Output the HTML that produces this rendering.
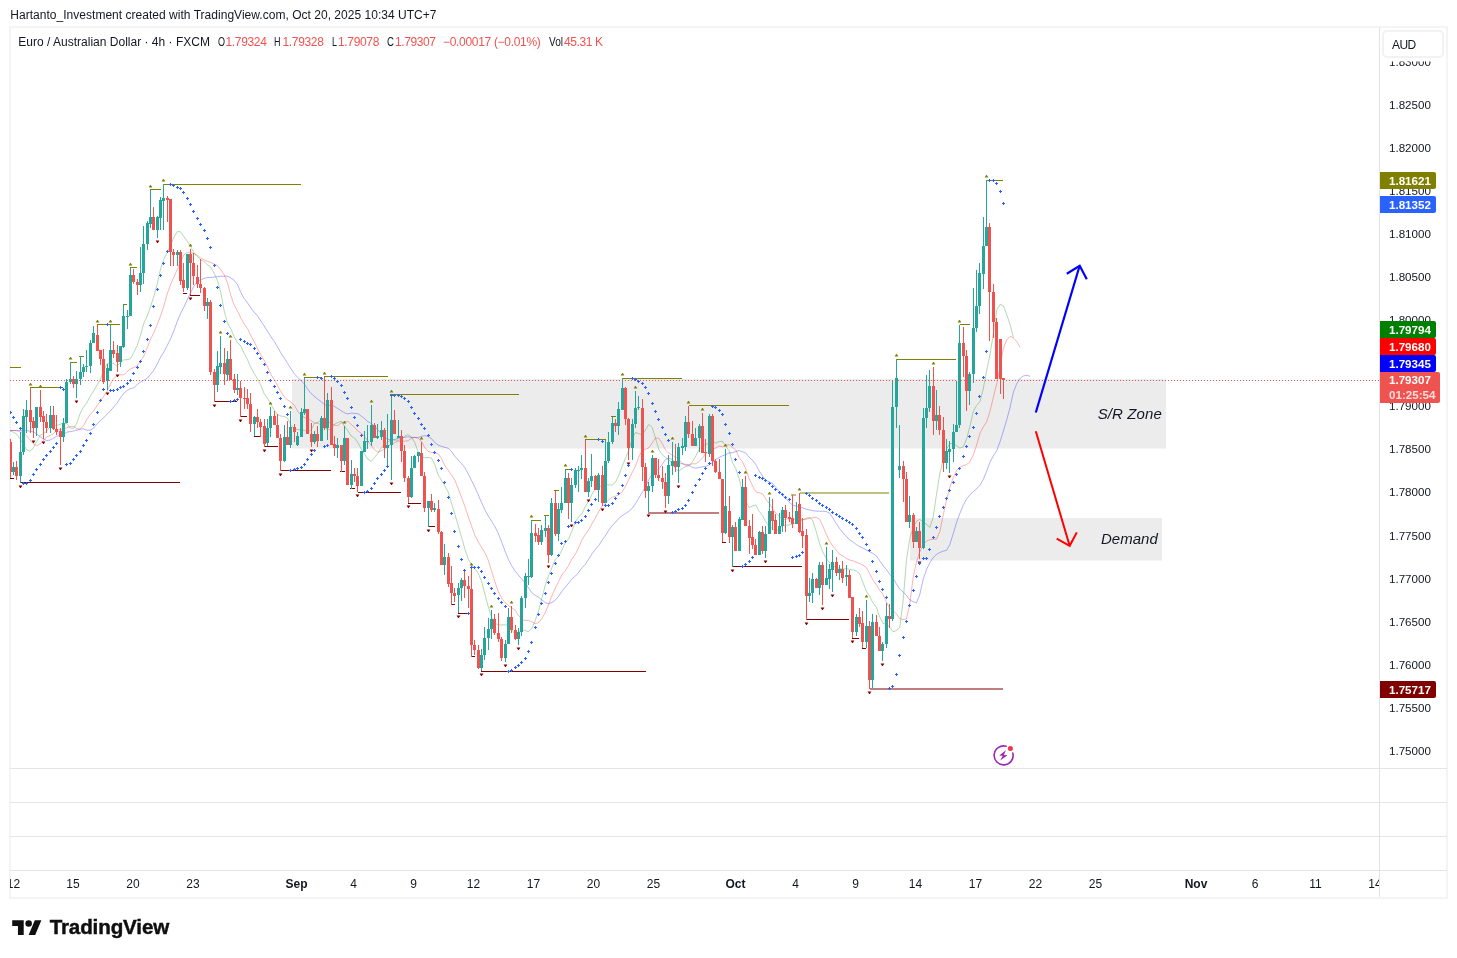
<!DOCTYPE html><html><head><meta charset="utf-8"><title>EURAUD chart</title><style>
*{margin:0;padding:0;box-sizing:border-box}
html,body{width:1457px;height:958px;background:#fff;overflow:hidden}
body{position:relative;font-family:"Liberation Sans",sans-serif;color:#131722;font-size:12px}
.abs{position:absolute;white-space:nowrap}
#hdr{left:10px;top:8px;height:14px;line-height:14px;font-size:12px;color:#131722;letter-spacing:-0.16px}
#frame{left:9px;top:26px;width:1439px;height:873px;border:2px solid #f4f4f6;border-right-width:2px}
.hl{left:10px;width:1437px;height:1px;background:#e4e5e9}
.vl{left:1379px;top:27px;width:1px;height:870px;background:#e2e3e7}
.lg{top:35px;height:14px;line-height:14px;font-size:12px}
.lg.r{color:#ef5350}
.pl{left:1380px;width:68px;height:14px;line-height:14px;font-size:11.6px;padding-left:9px;color:#131722}
.tag{left:1380px;width:56px;height:17px;line-height:17px;font-size:11.6px;padding-left:9px;color:#fff;font-weight:bold;border-radius:0 2px 2px 0}
.tl{top:877px;height:14px;line-height:14px;font-size:12px;transform:translateX(-50%);color:#131722}
.tl.b{font-weight:bold}
.note{font-style:italic;font-size:15px;color:#131722;height:18px;line-height:18px}
#aud{left:1382px;top:30px;width:62px;height:28px;border:2px solid #f2f2f4;border-radius:5px;background:#fff;font-size:12px;line-height:26.5px;padding-left:8px;letter-spacing:-.6px}
#tvtxt{left:49.5px;top:915px;font-size:20.5px;line-height:24px;font-weight:bold;color:#131722;letter-spacing:-0.2px}
</style></head><body>
<div class="abs" id="frame"></div>
<div class="abs hl" style="top:768px"></div>
<div class="abs hl" style="top:802px"></div>
<div class="abs hl" style="top:836px"></div>
<div class="abs hl" style="top:870px"></div>
<svg class="abs" style="left:0;top:0" width="1457" height="958" viewBox="0 0 1457 958"><defs><clipPath id="cp"><rect x="10" y="27" width="1369" height="741"/></clipPath></defs><g clip-path="url(#cp)">
<rect x="292" y="379" width="874" height="69.5" fill="#ececec"/>
<rect x="910" y="518" width="252" height="42.5" fill="#ececec"/>
<polyline fill="none" stroke="#0000ff" stroke-opacity=".3" stroke-width="1" points="10.0,430.5 13.4,430.5 16.7,430.5 20.1,430.5 23.4,430.5 26.8,430.7 30.1,431.2 33.5,431.9 36.8,434.0 40.1,436.6 43.5,439.2 46.8,440.6 50.2,440.0 53.5,438.2 56.9,436.1 60.2,435.4 63.6,434.3 66.9,432.1 70.2,431.6 73.6,431.0 76.9,430.1 80.3,429.2 83.6,428.9 87.0,430.2 90.3,430.2 93.7,428.0 97.0,423.8 100.3,420.6 103.7,417.8 107.0,414.2 110.4,410.8 113.7,407.0 117.1,403.1 120.4,397.9 123.8,393.3 127.1,390.5 130.4,388.7 133.8,387.8 137.1,384.7 140.5,382.0 143.8,380.2 147.2,378.4 150.5,374.4 153.9,370.1 157.2,364.1 160.5,357.4 163.9,352.0 167.2,345.6 170.6,338.7 173.9,330.7 177.3,321.3 180.6,313.5 184.0,306.8 187.3,299.6 190.6,292.5 194.0,286.1 197.3,281.9 200.7,280.1 204.0,278.4 207.4,277.5 210.7,277.6 214.1,277.1 217.4,276.7 220.7,276.2 224.1,276.2 227.4,276.2 230.8,277.9 234.1,280.3 237.5,284.7 240.8,292.4 244.2,298.5 247.5,302.9 250.8,307.8 254.2,312.2 257.5,315.9 260.9,321.1 264.2,326.0 267.6,331.6 270.9,336.7 274.3,341.5 277.6,347.0 280.9,353.0 284.3,358.1 287.6,363.4 291.0,368.8 294.3,373.7 297.7,377.4 301.0,380.5 304.4,384.0 307.7,389.3 311.1,393.5 314.4,396.5 317.7,399.1 321.1,401.6 324.4,404.5 327.8,405.9 331.1,405.1 334.5,406.4 337.8,408.6 341.2,410.8 344.5,412.8 347.8,414.0 351.2,413.1 354.5,413.4 357.9,413.6 361.2,416.1 364.6,418.6 367.9,421.6 371.3,423.4 374.6,426.4 377.9,430.0 381.3,433.5 384.6,437.1 388.0,439.5 391.3,439.7 394.7,439.5 398.0,438.4 401.4,437.8 404.7,437.3 408.0,436.8 411.4,437.3 414.7,437.5 418.1,437.5 421.4,436.3 424.8,435.7 428.1,436.5 431.5,438.6 434.8,442.5 438.1,445.2 441.5,446.4 444.8,447.3 448.2,448.2 451.5,451.6 454.9,456.4 458.2,459.9 461.6,463.6 464.9,467.7 468.2,473.9 471.6,480.5 474.9,487.4 478.3,494.9 481.6,502.6 485.0,510.0 488.3,516.1 491.7,521.4 495.0,526.8 498.3,533.4 501.7,542.2 505.0,551.0 508.4,559.4 511.7,565.8 515.1,571.1 518.4,575.2 521.8,579.0 525.1,582.7 528.4,587.8 531.8,592.7 535.1,595.2 538.5,597.1 541.8,599.8 545.2,602.6 548.5,603.7 551.9,602.6 555.2,600.3 558.5,596.3 561.9,591.4 565.2,587.2 568.6,583.2 571.9,578.8 575.3,576.2 578.6,572.4 582.0,567.8 585.3,564.3 588.6,559.4 592.0,553.8 595.3,549.3 598.7,545.5 602.0,540.4 605.4,535.7 608.7,530.4 612.1,525.5 615.4,522.5 618.7,518.5 622.1,515.7 625.4,513.6 628.8,511.4 632.1,508.4 635.5,503.7 638.8,498.1 642.2,492.5 645.5,486.8 648.8,479.7 652.2,474.0 655.5,471.3 658.9,468.8 662.2,464.3 665.6,459.5 668.9,458.1 672.3,459.8 675.6,462.6 678.9,463.5 682.3,463.8 685.6,464.3 689.0,465.4 692.3,467.3 695.7,468.3 699.0,467.5 702.4,466.8 705.7,466.5 709.0,465.0 712.4,462.6 715.7,459.5 719.1,457.5 722.4,455.9 725.8,454.6 729.1,452.9 732.5,452.8 735.8,451.4 739.1,450.5 742.5,451.7 745.8,453.1 749.2,457.5 752.5,460.1 755.9,464.7 759.2,470.9 762.6,476.0 765.9,480.4 769.2,481.9 772.6,483.4 775.9,487.5 779.3,490.9 782.6,495.2 786.0,498.9 789.3,502.1 792.7,505.2 796.0,506.0 799.3,506.6 802.7,508.0 806.0,509.2 809.4,509.9 812.7,510.6 816.1,511.1 819.4,511.2 822.8,511.3 826.1,511.5 829.4,513.1 832.8,517.8 836.1,523.4 839.5,528.4 842.8,532.5 846.2,536.1 849.5,539.8 852.9,541.8 856.2,544.5 859.5,546.5 862.9,548.1 866.2,549.9 869.6,551.7 872.9,553.5 876.3,555.8 879.6,560.6 883.0,565.5 886.3,569.5 889.6,574.1 893.0,577.9 896.3,583.8 899.7,589.0 903.0,591.8 906.4,595.4 909.7,599.8 913.1,601.7 916.4,602.8 919.7,595.0 923.1,579.5 926.4,569.7 929.8,562.9 933.1,557.8 936.5,554.3 939.8,552.5 943.2,551.1 946.5,550.3 949.8,544.7 953.2,533.7 956.5,522.7 959.9,513.3 963.2,505.4 966.6,498.9 969.9,494.7 973.3,491.6 976.6,488.9 979.9,485.4 983.3,479.3 986.6,471.4 990.0,462.2 993.3,455.9 996.7,450.7 1000.0,441.8 1003.4,431.0 1006.7,420.1 1010.1,407.2 1013.4,392.3 1016.7,383.8 1020.1,378.2 1023.4,376.0 1026.8,375.2 1030.1,376.3"/>
<polyline fill="none" stroke="#ff0000" stroke-opacity=".3" stroke-width="1" points="10.0,430.5 13.4,430.5 16.7,430.8 20.1,431.6 23.4,432.8 26.8,436.0 30.1,440.1 33.5,443.8 36.8,445.6 40.1,443.9 43.5,440.5 46.8,436.7 50.2,435.5 53.5,433.7 56.9,430.3 60.2,429.6 63.6,428.9 66.9,427.7 70.2,426.5 73.6,426.4 76.9,428.8 80.3,429.0 83.6,425.5 87.0,419.0 90.3,414.4 93.7,410.7 97.0,405.7 100.3,401.3 103.7,396.3 107.0,391.3 110.4,384.2 113.7,378.5 117.1,375.9 120.4,374.7 123.8,375.0 127.1,371.7 130.4,368.8 133.8,367.5 137.1,366.1 140.5,361.2 143.8,356.0 147.2,348.0 150.5,339.1 153.9,332.5 157.2,324.7 160.5,316.0 163.9,305.9 167.2,293.8 170.6,284.4 173.9,277.2 177.3,269.2 180.6,261.5 184.0,254.9 187.3,252.1 190.6,252.8 194.0,253.4 197.3,255.2 200.7,258.0 204.0,259.8 207.4,261.3 210.7,262.3 214.1,264.1 217.4,265.6 220.7,269.7 224.1,274.6 227.4,282.5 230.8,295.3 234.1,304.9 237.5,311.1 240.8,318.0 244.2,324.0 247.5,328.5 250.8,335.4 254.2,341.5 257.5,348.7 260.9,354.9 264.2,360.4 267.6,366.9 270.9,374.3 274.3,379.8 277.6,385.8 280.9,391.7 284.3,396.8 287.6,399.9 291.0,402.2 294.3,405.2 297.7,411.1 301.0,415.2 304.4,417.4 307.7,418.9 311.1,420.6 314.4,422.9 317.7,422.8 321.1,419.5 324.4,419.7 327.8,421.7 331.1,423.6 334.5,425.2 337.8,425.6 341.2,422.8 344.5,422.1 347.8,421.3 351.2,424.4 354.5,427.3 357.9,431.2 361.2,433.0 364.6,436.5 367.9,441.2 371.3,445.4 374.6,449.8 377.9,452.2 381.3,450.8 384.6,449.1 388.0,446.2 391.3,444.2 394.7,442.7 398.0,441.1 401.4,441.4 404.7,441.2 408.0,440.7 411.4,438.4 414.7,437.2 418.1,438.3 421.4,441.5 424.8,447.5 428.1,451.2 431.5,452.5 434.8,453.1 438.1,453.8 441.5,458.6 444.8,465.5 448.2,470.2 451.5,474.9 454.9,480.1 458.2,488.6 461.6,497.5 464.9,506.5 468.2,516.4 471.6,526.3 474.9,535.3 478.3,542.1 481.6,547.4 485.0,553.0 488.3,560.4 491.7,571.3 495.0,582.0 498.3,591.7 501.7,598.2 505.0,602.7 508.4,605.4 511.7,607.7 515.1,610.2 518.4,615.0 521.8,619.6 525.1,620.4 528.4,620.3 531.8,621.8 535.1,623.6 538.5,622.7 541.8,618.6 545.2,612.8 548.5,604.8 551.9,595.8 555.2,588.4 558.5,581.8 561.9,574.8 565.2,571.0 568.6,565.5 571.9,559.0 575.3,554.4 578.6,547.6 582.0,539.9 585.3,534.4 588.6,530.1 592.0,523.7 595.3,518.1 598.7,511.7 602.0,506.1 605.4,503.7 608.7,499.6 612.1,497.4 615.4,496.2 618.7,494.9 622.1,492.0 625.4,486.5 628.8,479.5 632.1,472.7 635.5,466.0 638.8,457.0 642.2,450.6 645.5,449.1 648.8,447.9 652.2,443.1 655.5,438.0 658.9,438.3 662.2,443.6 665.6,450.2 668.9,453.2 672.3,455.1 675.6,457.0 678.9,459.6 682.3,463.4 685.6,465.5 689.0,464.6 692.3,463.8 695.7,463.8 699.0,461.6 702.4,458.1 705.7,453.6 709.0,451.1 712.4,449.3 715.7,448.0 719.1,446.1 722.4,446.7 725.8,445.3 729.1,444.6 732.5,447.3 735.8,450.0 739.1,457.6 742.5,461.8 745.8,469.0 749.2,478.6 752.5,485.9 755.9,491.9 759.2,492.8 762.6,493.9 765.9,499.3 769.2,503.3 772.6,508.8 775.9,513.1 779.3,516.5 782.6,519.7 786.0,519.1 789.3,518.6 792.7,519.3 796.0,519.8 799.3,519.7 802.7,519.6 806.0,519.3 809.4,518.3 812.7,517.7 816.1,517.2 819.4,519.1 822.8,526.0 826.1,534.0 829.4,540.8 832.8,546.0 836.1,550.1 839.5,554.3 842.8,555.8 846.2,558.4 849.5,560.0 852.9,560.8 856.2,562.3 859.5,563.5 862.9,565.0 866.2,567.3 869.6,573.6 872.9,580.0 876.3,584.7 879.6,590.3 883.0,594.5 886.3,602.0 889.6,608.1 893.0,610.3 896.3,613.9 899.7,618.6 903.0,619.5 906.4,619.0 909.7,604.3 913.1,577.9 916.4,562.1 919.7,552.1 923.1,545.2 926.4,541.1 929.8,539.7 933.1,539.1 936.5,539.2 939.8,531.6 943.2,515.3 946.5,499.8 949.8,487.4 953.2,477.8 956.5,470.6 959.9,467.3 963.2,465.7 966.6,464.6 969.9,461.9 973.3,455.0 976.6,445.2 979.9,433.5 983.3,426.9 986.6,422.0 990.0,411.2 993.3,397.5 996.7,383.9 1000.0,367.5 1003.4,348.2 1006.7,340.0 1010.1,336.4 1013.4,337.9 1016.7,341.5 1020.1,347.4"/>
<polyline fill="none" stroke="#008000" stroke-opacity=".3" stroke-width="1" points="10.0,431.0 13.4,432.2 16.7,434.0 20.1,438.9 23.4,444.8 26.8,449.9 30.1,451.4 33.5,447.6 36.8,441.4 40.1,435.2 43.5,433.6 46.8,431.1 50.2,426.1 53.5,425.9 56.9,425.4 60.2,424.3 63.6,423.1 66.9,423.5 70.2,428.0 73.6,428.5 76.9,423.0 80.3,413.1 83.6,406.9 87.0,402.4 90.3,396.1 93.7,391.0 97.0,385.1 100.3,379.4 103.7,370.4 107.0,363.9 110.4,362.7 113.7,363.5 117.1,366.2 120.4,362.6 123.8,359.9 127.1,359.6 130.4,358.9 133.8,352.4 137.1,345.9 140.5,335.1 143.8,323.4 147.2,316.1 150.5,306.8 153.9,296.4 157.2,284.3 160.5,269.1 163.9,259.1 167.2,252.6 170.6,244.8 173.9,237.3 177.3,231.6 180.6,231.8 184.0,236.9 187.3,241.1 190.6,246.4 194.0,252.7 197.3,256.6 200.7,259.7 204.0,261.5 207.4,264.6 210.7,266.9 214.1,273.2 217.4,280.4 220.7,291.8 224.1,310.5 227.4,322.8 230.8,329.2 234.1,336.6 237.5,342.5 240.8,346.0 244.2,353.5 247.5,359.6 250.8,367.5 254.2,373.6 257.5,378.7 260.9,385.5 264.2,393.6 267.6,398.5 270.9,404.4 274.3,410.1 277.6,414.6 280.9,416.0 284.3,416.5 287.6,418.4 291.0,425.2 294.3,428.9 297.7,429.7 301.0,429.7 304.4,430.3 307.7,432.0 311.1,430.0 314.4,423.3 317.7,422.9 321.1,425.3 324.4,427.8 327.8,429.5 331.1,429.2 334.5,424.1 337.8,422.6 341.2,421.2 344.5,426.2 347.8,430.6 351.2,436.1 354.5,438.0 357.9,442.6 361.2,449.0 364.6,454.1 367.9,459.4 371.3,461.3 374.6,457.3 377.9,453.3 381.3,447.7 384.6,444.3 388.0,441.8 391.3,439.5 394.7,440.3 398.0,440.1 401.4,439.6 404.7,436.1 408.0,434.6 411.4,437.0 414.7,442.3 418.1,451.8 421.4,456.8 424.8,457.7 428.1,457.6 431.5,457.9 434.8,464.8 438.1,474.6 441.5,480.3 444.8,485.8 448.2,492.0 451.5,503.2 454.9,514.4 458.2,525.5 461.6,537.5 464.9,549.1 468.2,558.9 471.6,565.1 474.9,569.1 478.3,573.6 481.6,581.3 485.0,594.5 488.3,607.0 491.7,617.6 495.0,622.8 498.3,625.0 501.7,624.9 505.0,624.8 508.4,625.3 511.7,630.0 515.1,634.3 518.4,632.6 521.8,630.0 525.1,630.5 528.4,631.7 531.8,628.5 535.1,620.9 538.5,611.2 541.8,598.7 545.2,585.5 548.5,575.8 551.9,567.6 555.2,559.4 558.5,556.3 561.9,550.4 565.2,543.0 568.6,538.9 571.9,531.1 575.3,522.1 578.6,516.9 582.0,513.5 585.3,506.5 588.6,501.1 592.0,494.3 595.3,488.7 598.7,488.4 602.0,484.8 605.4,484.3 608.7,484.9 612.1,485.1 615.4,482.4 618.7,475.5 622.1,466.5 625.4,458.3 628.8,450.4 632.1,439.1 635.5,432.4 638.8,433.7 642.2,434.9 645.5,429.7 648.8,424.4 652.2,427.5 655.5,438.1 658.9,449.9 662.2,454.7 665.6,457.4 668.9,459.9 672.3,463.5 675.6,468.9 678.9,471.1 682.3,468.6 685.6,466.5 689.0,465.9 692.3,462.0 695.7,456.3 699.0,449.5 702.4,446.3 705.7,444.4 709.0,443.2 712.4,441.2 715.7,443.1 719.1,441.6 722.4,441.3 725.8,446.2 729.1,450.8 732.5,462.7 735.8,468.5 739.1,478.7 742.5,492.1 745.8,501.0 749.2,507.6 752.5,506.0 755.9,505.0 759.2,511.4 762.6,515.5 765.9,521.8 769.2,526.1 772.6,528.9 775.9,531.5 779.3,528.3 782.6,525.6 786.0,525.3 789.3,524.9 792.7,523.8 796.0,522.8 799.3,521.6 802.7,519.6 806.0,518.4 809.4,517.4 812.7,520.4 816.1,531.2 819.4,543.0 822.8,552.0 826.1,558.2 829.4,562.3 832.8,566.6 836.1,566.5 839.5,568.5 842.8,569.0 846.2,568.6 849.5,569.3 852.9,569.9 856.2,571.0 859.5,573.5 862.9,582.3 866.2,590.9 869.6,596.2 872.9,602.8 876.3,607.0 879.6,616.6 883.0,623.4 886.3,623.9 889.6,626.9 893.0,631.8 896.3,630.6 899.7,627.7 903.0,602.3 906.4,560.5 909.7,538.8 913.1,527.4 916.4,521.3 919.7,519.5 923.1,521.6 926.4,524.2 929.8,527.4 933.1,517.6 936.5,494.3 939.8,473.7 943.2,459.1 946.5,449.3 949.8,443.6 953.2,443.7 956.5,445.8 959.9,448.1 963.2,447.0 966.6,439.0 969.9,426.5 973.3,411.6 976.6,405.3 979.9,401.9 983.3,388.6 986.6,371.1 990.0,354.6 993.3,334.3 996.7,310.1 1000.0,304.5 1003.4,305.8 1006.7,314.4 1010.1,324.8 1013.4,337.6"/>
<rect x="164" y="184" width="137" height="1" fill="#808000" shape-rendering="crispEdges"/>
<rect x="150" y="189" width="11" height="1" fill="#808000" shape-rendering="crispEdges"/>
<rect x="130" y="267" width="7" height="1" fill="#808000" shape-rendering="crispEdges"/>
<rect x="123" y="304" width="4" height="1" fill="#808000" shape-rendering="crispEdges"/>
<rect x="97" y="324" width="23" height="1" fill="#808000" shape-rendering="crispEdges"/>
<rect x="30" y="387" width="33" height="1" fill="#808000" shape-rendering="crispEdges"/>
<rect x="70" y="362" width="7" height="1" fill="#808000" shape-rendering="crispEdges"/>
<rect x="79" y="356" width="5" height="1" fill="#808000" shape-rendering="crispEdges"/>
<rect x="10" y="367" width="11" height="1" fill="#808000" shape-rendering="crispEdges"/>
<rect x="304" y="377" width="17" height="1" fill="#808000" shape-rendering="crispEdges"/>
<rect x="324" y="376" width="64" height="1" fill="#808000" shape-rendering="crispEdges"/>
<rect x="390" y="394" width="129" height="1" fill="#808000" shape-rendering="crispEdges"/>
<rect x="622" y="378" width="60" height="1" fill="#808000" shape-rendering="crispEdges"/>
<rect x="689" y="405" width="100" height="1" fill="#808000" shape-rendering="crispEdges"/>
<rect x="585" y="439" width="21" height="1" fill="#808000" shape-rendering="crispEdges"/>
<rect x="611" y="416" width="5" height="1" fill="#808000" shape-rendering="crispEdges"/>
<rect x="565" y="469" width="7" height="1" fill="#808000" shape-rendering="crispEdges"/>
<rect x="554" y="490" width="5" height="1" fill="#808000" shape-rendering="crispEdges"/>
<rect x="532" y="520" width="9" height="1" fill="#808000" shape-rendering="crispEdges"/>
<rect x="544" y="515" width="5" height="1" fill="#808000" shape-rendering="crispEdges"/>
<rect x="800" y="492" width="89" height="2" fill="#808000" fill-opacity=".5" shape-rendering="crispEdges"/>
<rect x="791" y="494" width="5" height="2" fill="#808000" fill-opacity=".5" shape-rendering="crispEdges"/>
<rect x="896" y="359" width="60" height="1" fill="#808000" shape-rendering="crispEdges"/>
<rect x="960" y="324" width="10" height="1" fill="#808000" shape-rendering="crispEdges"/>
<rect x="986" y="180" width="17" height="1" fill="#808000" shape-rendering="crispEdges"/>
<rect x="20" y="482" width="160" height="1" fill="#800000" shape-rendering="crispEdges"/>
<rect x="10" y="478" width="4" height="1" fill="#800000" shape-rendering="crispEdges"/>
<rect x="183" y="293" width="4" height="1" fill="#800000" shape-rendering="crispEdges"/>
<rect x="190" y="295" width="10" height="1" fill="#800000" shape-rendering="crispEdges"/>
<rect x="214" y="401" width="23" height="1" fill="#800000" shape-rendering="crispEdges"/>
<rect x="240" y="416" width="7" height="1" fill="#800000" shape-rendering="crispEdges"/>
<rect x="254" y="436" width="7" height="1" fill="#800000" shape-rendering="crispEdges"/>
<rect x="264" y="446" width="14" height="1" fill="#800000" shape-rendering="crispEdges"/>
<rect x="281" y="470" width="50" height="1" fill="#800000" shape-rendering="crispEdges"/>
<rect x="340" y="471" width="5" height="1" fill="#800000" shape-rendering="crispEdges"/>
<rect x="350" y="488" width="5" height="1" fill="#800000" shape-rendering="crispEdges"/>
<rect x="358" y="492" width="43" height="1" fill="#800000" shape-rendering="crispEdges"/>
<rect x="408" y="503" width="13" height="1" fill="#800000" shape-rendering="crispEdges"/>
<rect x="428" y="526" width="7" height="1" fill="#800000" shape-rendering="crispEdges"/>
<rect x="451" y="604" width="4" height="1" fill="#800000" shape-rendering="crispEdges"/>
<rect x="458" y="613" width="11" height="1" fill="#800000" shape-rendering="crispEdges"/>
<rect x="471" y="656" width="4" height="1" fill="#800000" shape-rendering="crispEdges"/>
<rect x="481" y="671" width="165" height="1" fill="#800000" shape-rendering="crispEdges"/>
<rect x="648" y="512" width="71" height="2" fill="#800000" fill-opacity=".5" shape-rendering="crispEdges"/>
<rect x="722" y="542" width="4" height="1" fill="#800000" shape-rendering="crispEdges"/>
<rect x="732" y="566" width="70" height="1" fill="#800000" shape-rendering="crispEdges"/>
<rect x="806" y="619" width="43" height="1" fill="#800000" shape-rendering="crispEdges"/>
<rect x="852" y="638" width="7" height="1" fill="#800000" shape-rendering="crispEdges"/>
<rect x="862" y="648" width="4" height="1" fill="#800000" shape-rendering="crispEdges"/>
<rect x="870" y="688" width="133" height="2" fill="#800000" fill-opacity=".5" shape-rendering="crispEdges"/>
<path d="M13 462h1V475h-1zM12 467h3V472h-3zM20 432h1V483h-1zM19 452h3V476h-3zM23 409h1V455h-1zM22 416h3V452h-3zM26 400h1V433h-1zM25 410h3V417h-3zM36 407h1V436h-1zM35 407h3V428h-3zM50 406h1V433h-1zM49 415h3V428h-3zM63 418h1V442h-1zM62 423h3V437h-3zM66 379h1V423h-1zM65 382h3V423h-3zM70 362h1V384h-1zM69 379h3V382h-3zM76 371h1V398h-1zM75 379h3V384h-3zM80 356h1V385h-1zM79 372h3V379h-3zM83 364h1V377h-1zM82 367h3V372h-3zM86 350h1V372h-1zM85 366h3V367h-3zM90 340h1V373h-1zM89 343h3V366h-3zM93 326h1V343h-1zM92 333h3V343h-3zM107 364h1V390h-1zM106 368h3V381h-3zM110 325h1V371h-1zM109 350h3V371h-3zM120 346h1V367h-1zM119 346h3V362h-3zM123 305h1V348h-1zM122 316h3V347h-3zM127 310h1V329h-1zM126 316h3V317h-3zM130 268h1V316h-1zM129 275h3V316h-3zM140 247h1V292h-1zM139 273h3V285h-3zM143 226h1V284h-1zM142 244h3V273h-3zM147 221h1V250h-1zM146 223h3V244h-3zM150 190h1V228h-1zM149 217h3V224h-3zM157 216h1V238h-1zM156 217h3V230h-3zM160 197h1V230h-1zM159 200h3V218h-3zM163 184h1V230h-1zM162 198h3V201h-3zM177 250h1V266h-1zM176 252h3V255h-3zM187 254h1V290h-1zM186 254h3V288h-3zM207 298h1V319h-1zM206 302h3V306h-3zM217 351h1V392h-1zM216 366h3V385h-3zM220 336h1V374h-1zM219 363h3V367h-3zM227 351h1V381h-1zM226 359h3V375h-3zM237 374h1V395h-1zM236 388h3V390h-3zM254 416h1V436h-1zM253 417h3V424h-3zM267 419h1V446h-1zM266 428h3V443h-3zM270 407h1V437h-1zM269 416h3V428h-3zM284 425h1V462h-1zM283 437h3V461h-3zM290 411h1V448h-1zM289 427h3V445h-3zM297 432h1V446h-1zM296 436h3V445h-3zM301 408h1V437h-1zM300 412h3V437h-3zM304 378h1V415h-1zM303 409h3V413h-3zM314 431h1V444h-1zM313 434h3V442h-3zM321 416h1V441h-1zM320 418h3V441h-3zM327 393h1V440h-1zM326 400h3V428h-3zM337 438h1V458h-1zM336 445h3V448h-3zM344 426h1V465h-1zM343 438h3V461h-3zM351 460h1V489h-1zM350 474h3V485h-3zM361 451h1V486h-1zM360 451h3V486h-3zM364 431h1V452h-1zM363 441h3V452h-3zM367 425h1V449h-1zM366 441h3V442h-3zM371 405h1V446h-1zM370 425h3V442h-3zM377 424h1V439h-1zM376 436h3V438h-3zM381 421h1V440h-1zM380 430h3V437h-3zM387 414h1V465h-1zM386 445h3V448h-3zM391 395h1V480h-1zM390 420h3V445h-3zM398 420h1V438h-1zM397 436h3V438h-3zM411 456h1V498h-1zM410 468h3V497h-3zM414 455h1V468h-1zM413 456h3V468h-3zM418 452h1V462h-1zM417 452h3V456h-3zM428 501h1V527h-1zM427 501h3V508h-3zM434 503h1V512h-1zM433 508h3V510h-3zM444 544h1V575h-1zM443 557h3V565h-3zM458 583h1V613h-1zM457 588h3V595h-3zM461 578h1V601h-1zM460 580h3V588h-3zM481 649h1V671h-1zM480 655h3V668h-3zM484 627h1V660h-1zM483 638h3V655h-3zM488 618h1V650h-1zM487 629h3V638h-3zM491 610h1V639h-1zM490 619h3V629h-3zM505 640h1V662h-1zM504 644h3V658h-3zM508 608h1V644h-1zM507 617h3V644h-3zM518 628h1V645h-1zM517 632h3V639h-3zM521 596h1V636h-1zM520 598h3V632h-3zM525 573h1V608h-1zM524 576h3V598h-3zM528 559h1V585h-1zM527 576h3V577h-3zM531 520h1V578h-1zM530 533h3V577h-3zM541 525h1V545h-1zM540 530h3V542h-3zM545 516h1V537h-1zM544 528h3V531h-3zM551 498h1V556h-1zM550 503h3V555h-3zM558 503h1V541h-1zM557 509h3V534h-3zM561 487h1V513h-1zM560 503h3V510h-3zM565 469h1V503h-1zM564 478h3V503h-3zM571 478h1V522h-1zM570 485h3V503h-3zM575 468h1V488h-1zM574 470h3V485h-3zM578 466h1V492h-1zM577 470h3V471h-3zM581 455h1V479h-1zM580 468h3V470h-3zM588 478h1V497h-1zM587 481h3V492h-3zM591 454h1V487h-1zM590 476h3V481h-3zM598 473h1V502h-1zM597 475h3V490h-3zM605 440h1V503h-1zM604 461h3V503h-3zM608 432h1V463h-1zM607 442h3V461h-3zM612 417h1V444h-1zM611 423h3V442h-3zM618 402h1V435h-1zM617 409h3V426h-3zM622 378h1V410h-1zM621 388h3V410h-3zM632 419h1V460h-1zM631 424h3V448h-3zM635 391h1V428h-1zM634 408h3V424h-3zM638 396h1V410h-1zM637 407h3V408h-3zM648 482h1V512h-1zM647 486h3V491h-3zM652 455h1V492h-1zM651 458h3V486h-3zM668 455h1V504h-1zM667 465h3V496h-3zM672 442h1V475h-1zM671 461h3V466h-3zM678 443h1V483h-1zM677 447h3V467h-3zM682 438h1V455h-1zM681 446h3V448h-3zM685 416h1V451h-1zM684 422h3V447h-3zM695 428h1V446h-1zM694 438h3V446h-3zM699 424h1V452h-1zM698 426h3V438h-3zM709 414h1V457h-1zM708 416h3V454h-3zM725 449h1V534h-1zM724 506h3V533h-3zM732 525h1V567h-1zM731 527h3V537h-3zM739 517h1V551h-1zM738 519h3V551h-3zM742 479h1V520h-1zM741 487h3V520h-3zM759 531h1V555h-1zM758 532h3V555h-3zM765 526h1V558h-1zM764 534h3V551h-3zM769 497h1V534h-1zM768 511h3V534h-3zM779 513h1V534h-1zM778 526h3V534h-3zM782 507h1V532h-1zM781 510h3V526h-3zM796 502h1V524h-1zM795 511h3V524h-3zM809 578h1V602h-1zM808 593h3V596h-3zM812 573h1V603h-1zM811 579h3V593h-3zM819 562h1V595h-1zM818 565h3V588h-3zM826 547h1V585h-1zM825 578h3V585h-3zM829 564h1V589h-1zM828 569h3V579h-3zM832 550h1V592h-1zM831 562h3V570h-3zM839 565h1V580h-1zM838 569h3V573h-3zM846 565h1V586h-1zM845 575h3V577h-3zM856 614h1V636h-1zM855 617h3V632h-3zM866 600h1V648h-1zM865 626h3V642h-3zM872 614h1V688h-1zM871 622h3V680h-3zM882 642h1V661h-1zM881 644h3V651h-3zM886 603h1V648h-1zM885 616h3V644h-3zM892 381h1V621h-1zM891 407h3V619h-3zM896 359h1V428h-1zM895 378h3V407h-3zM899 425h1V478h-1zM898 466h3V470h-3zM909 496h1V528h-1zM908 515h3V522h-3zM916 527h1V542h-1zM915 531h3V542h-3zM923 408h1V549h-1zM922 418h3V548h-3zM926 375h1V428h-1zM925 408h3V418h-3zM929 370h1V412h-1zM928 386h3V408h-3zM936 390h1V430h-1zM935 415h3V421h-3zM946 439h1V469h-1zM945 451h3V463h-3zM949 441h1V473h-1zM948 449h3V452h-3zM953 424h1V462h-1zM952 432h3V449h-3zM956 381h1V432h-1zM955 425h3V432h-3zM959 325h1V428h-1zM958 343h3V425h-3zM969 372h1V405h-1zM968 374h3V391h-3zM973 288h1V383h-1zM972 328h3V374h-3zM976 270h1V332h-1zM975 306h3V328h-3zM979 263h1V314h-1zM978 273h3V306h-3zM983 217h1V289h-1zM982 246h3V274h-3zM986 180h1V246h-1zM985 227h3V246h-3z" fill="#26a69a" shape-rendering="crispEdges"/>
<path d="M10 439h1V478h-1zM9 442h3V472h-3zM16 461h1V480h-1zM15 467h3V476h-3zM30 388h1V433h-1zM29 410h3V422h-3zM33 417h1V438h-1zM32 421h3V428h-3zM40 390h1V422h-1zM39 407h3V417h-3zM43 411h1V439h-1zM42 416h3V422h-3zM46 414h1V433h-1zM45 422h3V428h-3zM53 406h1V430h-1zM52 415h3V429h-3zM56 415h1V435h-1zM55 429h3V432h-3zM60 428h1V465h-1zM59 431h3V437h-3zM73 376h1V388h-1zM72 379h3V384h-3zM97 325h1V351h-1zM96 335h3V351h-3zM100 350h1V365h-1zM99 350h3V359h-3zM103 349h1V384h-1zM102 359h3V382h-3zM113 341h1V358h-1zM112 350h3V354h-3zM117 345h1V372h-1zM116 353h3V362h-3zM133 269h1V284h-1zM132 275h3V282h-3zM137 279h1V295h-1zM136 282h3V285h-3zM153 207h1V230h-1zM152 217h3V230h-3zM167 196h1V222h-1zM166 198h3V200h-3zM170 199h1V266h-1zM169 199h3V252h-3zM173 249h1V266h-1zM172 252h3V255h-3zM180 250h1V285h-1zM179 252h3V281h-3zM183 263h1V292h-1zM182 280h3V288h-3zM190 249h1V295h-1zM189 254h3V263h-3zM193 253h1V285h-1zM192 263h3V276h-3zM197 265h1V288h-1zM196 277h3V284h-3zM200 259h1V293h-1zM199 284h3V288h-3zM204 287h1V311h-1zM203 288h3V306h-3zM210 300h1V375h-1zM209 302h3V372h-3zM214 369h1V402h-1zM213 372h3V385h-3zM224 348h1V385h-1zM223 363h3V374h-3zM230 340h1V380h-1zM229 359h3V380h-3zM234 374h1V393h-1zM233 379h3V390h-3zM240 381h1V417h-1zM239 388h3V398h-3zM244 387h1V409h-1zM243 398h3V399h-3zM247 389h1V409h-1zM246 398h3V404h-3zM250 393h1V432h-1zM249 404h3V424h-3zM257 409h1V428h-1zM256 417h3V422h-3zM260 419h1V437h-1zM259 422h3V427h-3zM264 419h1V447h-1zM263 426h3V444h-3zM274 411h1V425h-1zM273 416h3V425h-3zM277 414h1V438h-1zM276 425h3V438h-3zM280 434h1V471h-1zM279 438h3V461h-3zM287 421h1V445h-1zM286 437h3V445h-3zM294 424h1V442h-1zM293 427h3V432h-3zM307 409h1V434h-1zM306 409h3V434h-3zM311 423h1V447h-1zM310 434h3V442h-3zM317 426h1V447h-1zM316 434h3V441h-3zM324 377h1V430h-1zM323 418h3V428h-3zM331 387h1V445h-1zM330 400h3V445h-3zM334 436h1V456h-1zM333 444h3V448h-3zM341 445h1V472h-1zM340 445h3V461h-3zM347 438h1V485h-1zM346 438h3V485h-3zM354 468h1V482h-1zM353 474h3V476h-3zM357 468h1V492h-1zM356 476h3V486h-3zM374 423h1V438h-1zM373 425h3V438h-3zM384 428h1V458h-1zM383 430h3V448h-3zM394 410h1V434h-1zM393 420h3V434h-3zM401 430h1V462h-1zM400 436h3V451h-3zM404 445h1V482h-1zM403 451h3V478h-3zM408 476h1V503h-1zM407 478h3V497h-3zM421 442h1V476h-1zM420 453h3V476h-3zM424 472h1V512h-1zM423 476h3V508h-3zM431 494h1V512h-1zM430 501h3V510h-3zM438 500h1V534h-1zM437 509h3V532h-3zM441 531h1V565h-1zM440 532h3V565h-3zM448 553h1V587h-1zM447 557h3V584h-3zM451 566h1V605h-1zM450 583h3V593h-3zM454 588h1V602h-1zM453 593h3V596h-3zM464 572h1V598h-1zM463 580h3V586h-3zM468 576h1V608h-1zM467 586h3V589h-3zM471 568h1V657h-1zM470 589h3V645h-3zM474 640h1V655h-1zM473 645h3V650h-3zM478 645h1V669h-1zM477 650h3V668h-3zM494 614h1V635h-1zM493 619h3V633h-3zM498 613h1V642h-1zM497 633h3V639h-3zM501 637h1V661h-1zM500 639h3V658h-3zM511 606h1V633h-1zM510 617h3V630h-3zM515 625h1V640h-1zM514 630h3V639h-3zM535 524h1V542h-1zM534 533h3V536h-3zM538 528h1V545h-1zM537 535h3V542h-3zM548 525h1V563h-1zM547 528h3V555h-3zM555 491h1V536h-1zM554 503h3V534h-3zM568 473h1V519h-1zM567 478h3V503h-3zM585 440h1V492h-1zM584 468h3V492h-3zM595 475h1V490h-1zM594 476h3V490h-3zM602 466h1V506h-1zM601 475h3V503h-3zM615 419h1V432h-1zM614 423h3V426h-3zM625 387h1V425h-1zM624 388h3V419h-3zM628 418h1V460h-1zM627 419h3V448h-3zM642 399h1V481h-1zM641 408h3V467h-3zM645 463h1V498h-1zM644 467h3V491h-3zM655 458h1V478h-1zM654 458h3V475h-3zM658 459h1V481h-1zM657 475h3V478h-3zM662 466h1V489h-1zM661 478h3V482h-3zM665 473h1V508h-1zM664 482h3V496h-3zM675 444h1V472h-1zM674 461h3V467h-3zM688 406h1V438h-1zM687 422h3V434h-3zM692 421h1V446h-1zM691 434h3V446h-3zM702 413h1V453h-1zM701 426h3V453h-3zM705 439h1V462h-1zM704 452h3V453h-3zM712 414h1V466h-1zM711 416h3V461h-3zM715 459h1V473h-1zM714 461h3V472h-3zM719 459h1V479h-1zM718 472h3V479h-3zM722 479h1V542h-1zM721 479h3V533h-3zM729 496h1V543h-1zM728 511h3V537h-3zM735 522h1V551h-1zM734 527h3V551h-3zM745 476h1V526h-1zM744 487h3V526h-3zM749 520h1V554h-1zM748 526h3V538h-3zM752 514h1V549h-1zM751 537h3V545h-3zM755 539h1V555h-1zM754 545h3V555h-3zM762 526h1V554h-1zM761 532h3V551h-3zM772 499h1V530h-1zM771 511h3V521h-3zM775 514h1V534h-1zM774 520h3V534h-3zM785 505h1V532h-1zM784 510h3V518h-3zM789 512h1V522h-1zM788 517h3V519h-3zM792 495h1V528h-1zM791 518h3V524h-3zM799 493h1V533h-1zM798 504h3V532h-3zM802 518h1V548h-1zM801 531h3V536h-3zM806 529h1V620h-1zM805 535h3V596h-3zM816 578h1V588h-1zM815 579h3V588h-3zM822 562h1V605h-1zM821 565h3V585h-3zM836 557h1V576h-1zM835 562h3V573h-3zM842 561h1V583h-1zM841 569h3V578h-3zM849 570h1V598h-1zM848 575h3V598h-3zM852 597h1V638h-1zM851 597h3V632h-3zM859 608h1V627h-1zM858 617h3V624h-3zM862 611h1V648h-1zM861 623h3V642h-3zM869 621h1V689h-1zM868 626h3V680h-3zM876 615h1V636h-1zM875 622h3V636h-3zM879 627h1V651h-1zM878 636h3V651h-3zM889 604h1V628h-1zM888 616h3V619h-3zM903 461h1V502h-1zM902 466h3V479h-3zM906 472h1V522h-1zM905 479h3V522h-3zM913 513h1V548h-1zM912 515h3V542h-3zM919 522h1V559h-1zM918 531h3V548h-3zM933 367h1V435h-1zM932 386h3V421h-3zM939 406h1V435h-1zM938 415h3V430h-3zM943 417h1V472h-1zM942 430h3V463h-3zM963 327h1V377h-1zM962 343h3V356h-3zM966 350h1V411h-1zM965 356h3V391h-3zM989 223h1V341h-1zM988 227h3V292h-3zM993 284h1V338h-1zM992 292h3V322h-3zM996 318h1V379h-1zM995 322h3V379h-3zM1000 339h1V394h-1zM999 339h3V379h-3zM1003 378h1V399h-1zM1002 378h3V380h-3z" fill="#ef5350" shape-rendering="crispEdges"/>
<line x1="10" x2="1379" y1="380.5" y2="380.5" stroke="#ef5350" stroke-width="1" stroke-dasharray="1 2"/>
<path d="M30.5 385.6h1.9l-1.55 -2.7h-.7l-1.55 2.7zM40.5 387.6h1.9l-1.55 -2.7h-.7l-1.55 2.7zM70.5 359.6h1.9l-1.55 -2.7h-.7l-1.55 2.7zM97.5 322.6h1.9l-1.55 -2.7h-.7l-1.55 2.7zM110.5 322.6h1.9l-1.55 -2.7h-.7l-1.55 2.7zM130.5 265.6h1.9l-1.55 -2.7h-.7l-1.55 2.7zM150.5 187.6h1.9l-1.55 -2.7h-.7l-1.55 2.7zM163.5 181.6h1.9l-1.55 -2.7h-.7l-1.55 2.7zM190.5 246.6h1.9l-1.55 -2.7h-.7l-1.55 2.7zM220.5 333.6h1.9l-1.55 -2.7h-.7l-1.55 2.7zM230.5 337.6h1.9l-1.55 -2.7h-.7l-1.55 2.7zM270.5 404.6h1.9l-1.55 -2.7h-.7l-1.55 2.7zM290.5 408.6h1.9l-1.55 -2.7h-.7l-1.55 2.7zM304.5 375.6h1.9l-1.55 -2.7h-.7l-1.55 2.7zM324.5 374.6h1.9l-1.55 -2.7h-.7l-1.55 2.7zM344.5 423.6h1.9l-1.55 -2.7h-.7l-1.55 2.7zM371.5 402.6h1.9l-1.55 -2.7h-.7l-1.55 2.7zM391.5 392.6h1.9l-1.55 -2.7h-.7l-1.55 2.7zM421.5 439.6h1.9l-1.55 -2.7h-.7l-1.55 2.7zM471.5 565.6h1.9l-1.55 -2.7h-.7l-1.55 2.7zM491.5 607.6h1.9l-1.55 -2.7h-.7l-1.55 2.7zM511.5 603.6h1.9l-1.55 -2.7h-.7l-1.55 2.7zM531.5 517.6h1.9l-1.55 -2.7h-.7l-1.55 2.7zM565.5 466.6h1.9l-1.55 -2.7h-.7l-1.55 2.7zM585.5 437.6h1.9l-1.55 -2.7h-.7l-1.55 2.7zM622.5 375.6h1.9l-1.55 -2.7h-.7l-1.55 2.7zM635.5 388.6h1.9l-1.55 -2.7h-.7l-1.55 2.7zM652.5 452.6h1.9l-1.55 -2.7h-.7l-1.55 2.7zM672.5 439.6h1.9l-1.55 -2.7h-.7l-1.55 2.7zM688.5 403.6h1.9l-1.55 -2.7h-.7l-1.55 2.7zM702.5 410.6h1.9l-1.55 -2.7h-.7l-1.55 2.7zM725.5 446.6h1.9l-1.55 -2.7h-.7l-1.55 2.7zM745.5 473.6h1.9l-1.55 -2.7h-.7l-1.55 2.7zM769.5 494.6h1.9l-1.55 -2.7h-.7l-1.55 2.7zM799.5 490.6h1.9l-1.55 -2.7h-.7l-1.55 2.7zM826.5 544.6h1.9l-1.55 -2.7h-.7l-1.55 2.7zM866.5 597.6h1.9l-1.55 -2.7h-.7l-1.55 2.7zM896.5 356.6h1.9l-1.55 -2.7h-.7l-1.55 2.7zM933.5 364.6h1.9l-1.55 -2.7h-.7l-1.55 2.7zM959.5 322.6h1.9l-1.55 -2.7h-.7l-1.55 2.7zM986.5 177.6h1.9l-1.55 -2.7h-.7l-1.55 2.7z" fill="#808000"/>
<path d="M20.5 485.4h1.9l-1.55 2.5h-.7l-1.55 -2.5zM33.5 440.4h1.9l-1.55 2.5h-.7l-1.55 -2.5zM43.5 441.4h1.9l-1.55 2.5h-.7l-1.55 -2.5zM60.5 467.4h1.9l-1.55 2.5h-.7l-1.55 -2.5zM76.5 400.4h1.9l-1.55 2.5h-.7l-1.55 -2.5zM107.5 392.4h1.9l-1.55 2.5h-.7l-1.55 -2.5zM117.5 374.4h1.9l-1.55 2.5h-.7l-1.55 -2.5zM157.5 240.4h1.9l-1.55 2.5h-.7l-1.55 -2.5zM190.5 297.4h1.9l-1.55 2.5h-.7l-1.55 -2.5zM214.5 404.4h1.9l-1.55 2.5h-.7l-1.55 -2.5zM240.5 419.4h1.9l-1.55 2.5h-.7l-1.55 -2.5zM264.5 449.4h1.9l-1.55 2.5h-.7l-1.55 -2.5zM280.5 473.4h1.9l-1.55 2.5h-.7l-1.55 -2.5zM311.5 449.4h1.9l-1.55 2.5h-.7l-1.55 -2.5zM357.5 494.4h1.9l-1.55 2.5h-.7l-1.55 -2.5zM391.5 482.4h1.9l-1.55 2.5h-.7l-1.55 -2.5zM408.5 505.4h1.9l-1.55 2.5h-.7l-1.55 -2.5zM428.5 529.4h1.9l-1.55 2.5h-.7l-1.55 -2.5zM458.5 615.4h1.9l-1.55 2.5h-.7l-1.55 -2.5zM481.5 673.4h1.9l-1.55 2.5h-.7l-1.55 -2.5zM505.5 664.4h1.9l-1.55 2.5h-.7l-1.55 -2.5zM518.5 647.4h1.9l-1.55 2.5h-.7l-1.55 -2.5zM548.5 565.4h1.9l-1.55 2.5h-.7l-1.55 -2.5zM571.5 524.4h1.9l-1.55 2.5h-.7l-1.55 -2.5zM588.5 499.4h1.9l-1.55 2.5h-.7l-1.55 -2.5zM602.5 508.4h1.9l-1.55 2.5h-.7l-1.55 -2.5zM628.5 462.4h1.9l-1.55 2.5h-.7l-1.55 -2.5zM648.5 514.4h1.9l-1.55 2.5h-.7l-1.55 -2.5zM665.5 510.4h1.9l-1.55 2.5h-.7l-1.55 -2.5zM678.5 485.4h1.9l-1.55 2.5h-.7l-1.55 -2.5zM732.5 569.4h1.9l-1.55 2.5h-.7l-1.55 -2.5zM765.5 560.4h1.9l-1.55 2.5h-.7l-1.55 -2.5zM806.5 622.4h1.9l-1.55 2.5h-.7l-1.55 -2.5zM822.5 607.4h1.9l-1.55 2.5h-.7l-1.55 -2.5zM832.5 594.4h1.9l-1.55 2.5h-.7l-1.55 -2.5zM852.5 640.4h1.9l-1.55 2.5h-.7l-1.55 -2.5zM869.5 691.4h1.9l-1.55 2.5h-.7l-1.55 -2.5zM882.5 663.4h1.9l-1.55 2.5h-.7l-1.55 -2.5zM919.5 561.4h1.9l-1.55 2.5h-.7l-1.55 -2.5zM949.5 475.4h1.9l-1.55 2.5h-.7l-1.55 -2.5z" fill="#800000"/>
<path d="M9 412h3v1h-3zM11 411v3h-1v-3zM12 417h3v1h-3zM14 416v3h-1v-3zM15 422h3v1h-3zM17 421v3h-1v-3zM19 428h3v1h-3zM21 427v3h-1v-3zM22 483h3v1h-3zM24 482v3h-1v-3zM25 483h3v1h-3zM27 482v3h-1v-3zM29 480h3v1h-3zM31 479v3h-1v-3zM32 474h3v1h-3zM34 473v3h-1v-3zM35 469h3v1h-3zM37 468v3h-1v-3zM39 464h3v1h-3zM41 463v3h-1v-3zM42 459h3v1h-3zM44 458v3h-1v-3zM45 455h3v1h-3zM47 454v3h-1v-3zM49 451h3v1h-3zM51 450v3h-1v-3zM52 447h3v1h-3zM54 446v3h-1v-3zM55 443h3v1h-3zM57 442v3h-1v-3zM59 387h3v1h-3zM61 386v3h-1v-3zM62 389h3v1h-3zM64 388v3h-1v-3zM65 464h3v1h-3zM67 463v3h-1v-3zM69 463h3v1h-3zM71 462v3h-1v-3zM72 459h3v1h-3zM74 458v3h-1v-3zM75 455h3v1h-3zM77 454v3h-1v-3zM79 451h3v1h-3zM81 450v3h-1v-3zM82 445h3v1h-3zM84 444v3h-1v-3zM85 440h3v1h-3zM87 439v3h-1v-3zM89 433h3v1h-3zM91 432v3h-1v-3zM92 424h3v1h-3zM94 423v3h-1v-3zM96 412h3v1h-3zM98 411v3h-1v-3zM99 400h3v1h-3zM101 399v3h-1v-3zM102 389h3v1h-3zM104 388v3h-1v-3zM106 324h3v1h-3zM108 323v3h-1v-3zM109 390h3v1h-3zM111 389v3h-1v-3zM112 390h3v1h-3zM114 389v3h-1v-3zM116 389h3v1h-3zM118 388v3h-1v-3zM119 387h3v1h-3zM121 386v3h-1v-3zM122 386h3v1h-3zM124 385v3h-1v-3zM126 383h3v1h-3zM128 382v3h-1v-3zM129 380h3v1h-3zM131 379v3h-1v-3zM132 373h3v1h-3zM134 372v3h-1v-3zM136 367h3v1h-3zM138 366v3h-1v-3zM139 361h3v1h-3zM141 360v3h-1v-3zM142 351h3v1h-3zM144 350v3h-1v-3zM146 339h3v1h-3zM148 338v3h-1v-3zM149 325h3v1h-3zM151 324v3h-1v-3zM152 306h3v1h-3zM154 305v3h-1v-3zM156 289h3v1h-3zM158 288v3h-1v-3zM159 275h3v1h-3zM161 274v3h-1v-3zM162 263h3v1h-3zM164 262v3h-1v-3zM166 251h3v1h-3zM168 250v3h-1v-3zM169 184h3v1h-3zM171 183v3h-1v-3zM172 185h3v1h-3zM174 184v3h-1v-3zM176 187h3v1h-3zM178 186v3h-1v-3zM179 188h3v1h-3zM181 187v3h-1v-3zM182 192h3v1h-3zM184 191v3h-1v-3zM186 198h3v1h-3zM188 197v3h-1v-3zM189 204h3v1h-3zM191 203v3h-1v-3zM192 211h3v1h-3zM194 210v3h-1v-3zM196 218h3v1h-3zM198 217v3h-1v-3zM199 224h3v1h-3zM201 223v3h-1v-3zM203 230h3v1h-3zM205 229v3h-1v-3zM206 238h3v1h-3zM208 237v3h-1v-3zM209 247h3v1h-3zM211 246v3h-1v-3zM213 265h3v1h-3zM215 264v3h-1v-3zM216 287h3v1h-3zM218 286v3h-1v-3zM219 305h3v1h-3zM221 304v3h-1v-3zM223 321h3v1h-3zM225 320v3h-1v-3zM226 333h3v1h-3zM228 332v3h-1v-3zM229 401h3v1h-3zM231 400v3h-1v-3zM233 400h3v1h-3zM235 399v3h-1v-3zM236 399h3v1h-3zM238 398v3h-1v-3zM239 339h3v1h-3zM241 338v3h-1v-3zM243 341h3v1h-3zM245 340v3h-1v-3zM246 343h3v1h-3zM248 342v3h-1v-3zM249 344h3v1h-3zM251 343v3h-1v-3zM253 348h3v1h-3zM255 347v3h-1v-3zM256 353h3v1h-3zM258 352v3h-1v-3zM259 358h3v1h-3zM261 357v3h-1v-3zM263 364h3v1h-3zM265 363v3h-1v-3zM266 372h3v1h-3zM268 371v3h-1v-3zM269 380h3v1h-3zM271 379v3h-1v-3zM273 386h3v1h-3zM275 385v3h-1v-3zM276 392h3v1h-3zM278 391v3h-1v-3zM279 398h3v1h-3zM281 397v3h-1v-3zM283 406h3v1h-3zM285 405v3h-1v-3zM286 414h3v1h-3zM288 413v3h-1v-3zM289 470h3v1h-3zM291 469v3h-1v-3zM293 469h3v1h-3zM295 468v3h-1v-3zM296 468h3v1h-3zM298 467v3h-1v-3zM300 467h3v1h-3zM302 466v3h-1v-3zM303 464h3v1h-3zM305 463v3h-1v-3zM306 459h3v1h-3zM308 458v3h-1v-3zM310 454h3v1h-3zM312 453v3h-1v-3zM313 450h3v1h-3zM315 449v3h-1v-3zM316 377h3v1h-3zM318 376v3h-1v-3zM320 378h3v1h-3zM322 377v3h-1v-3zM323 446h3v1h-3zM325 445v3h-1v-3zM326 445h3v1h-3zM328 444v3h-1v-3zM330 376h3v1h-3zM332 375v3h-1v-3zM333 378h3v1h-3zM335 377v3h-1v-3zM336 381h3v1h-3zM338 380v3h-1v-3zM340 385h3v1h-3zM342 384v3h-1v-3zM343 392h3v1h-3zM345 391v3h-1v-3zM346 398h3v1h-3zM348 397v3h-1v-3zM350 407h3v1h-3zM352 406v3h-1v-3zM353 417h3v1h-3zM355 416v3h-1v-3zM356 425h3v1h-3zM358 424v3h-1v-3zM360 435h3v1h-3zM362 434v3h-1v-3zM363 492h3v1h-3zM365 491v3h-1v-3zM366 491h3v1h-3zM368 490v3h-1v-3zM370 488h3v1h-3zM372 487v3h-1v-3zM373 483h3v1h-3zM375 482v3h-1v-3zM376 478h3v1h-3zM378 477v3h-1v-3zM380 474h3v1h-3zM382 473v3h-1v-3zM383 470h3v1h-3zM385 469v3h-1v-3zM386 466h3v1h-3zM388 465v3h-1v-3zM390 395h3v1h-3zM392 394v3h-1v-3zM393 395h3v1h-3zM395 394v3h-1v-3zM397 395h3v1h-3zM399 394v3h-1v-3zM400 396h3v1h-3zM402 395v3h-1v-3zM403 398h3v1h-3zM405 397v3h-1v-3zM407 401h3v1h-3zM409 400v3h-1v-3zM410 407h3v1h-3zM412 406v3h-1v-3zM413 413h3v1h-3zM415 412v3h-1v-3zM417 418h3v1h-3zM419 417v3h-1v-3zM420 424h3v1h-3zM422 423v3h-1v-3zM423 428h3v1h-3zM425 427v3h-1v-3zM427 435h3v1h-3zM429 434v3h-1v-3zM430 444h3v1h-3zM432 443v3h-1v-3zM433 452h3v1h-3zM435 451v3h-1v-3zM437 460h3v1h-3zM439 459v3h-1v-3zM440 468h3v1h-3zM442 467v3h-1v-3zM443 482h3v1h-3zM445 481v3h-1v-3zM447 497h3v1h-3zM449 496v3h-1v-3zM450 513h3v1h-3zM452 512v3h-1v-3zM453 531h3v1h-3zM455 530v3h-1v-3zM457 546h3v1h-3zM459 545v3h-1v-3zM460 559h3v1h-3zM462 558v3h-1v-3zM463 570h3v1h-3zM465 569v3h-1v-3zM467 613h3v1h-3zM469 612v3h-1v-3zM470 567h3v1h-3zM472 566v3h-1v-3zM473 567h3v1h-3zM475 566v3h-1v-3zM477 567h3v1h-3zM479 566v3h-1v-3zM480 571h3v1h-3zM482 570v3h-1v-3zM483 577h3v1h-3zM485 576v3h-1v-3zM487 583h3v1h-3zM489 582v3h-1v-3zM490 588h3v1h-3zM492 587v3h-1v-3zM493 593h3v1h-3zM495 592v3h-1v-3zM497 598h3v1h-3zM499 597v3h-1v-3zM500 602h3v1h-3zM502 601v3h-1v-3zM504 606h3v1h-3zM506 605v3h-1v-3zM507 671h3v1h-3zM509 670v3h-1v-3zM510 670h3v1h-3zM512 669v3h-1v-3zM514 667h3v1h-3zM516 666v3h-1v-3zM517 665h3v1h-3zM519 664v3h-1v-3zM520 662h3v1h-3zM522 661v3h-1v-3zM524 658h3v1h-3zM526 657v3h-1v-3zM527 651h3v1h-3zM529 650v3h-1v-3zM530 642h3v1h-3zM532 641v3h-1v-3zM534 627h3v1h-3zM536 626v3h-1v-3zM537 614h3v1h-3zM539 613v3h-1v-3zM540 603h3v1h-3zM542 602v3h-1v-3zM544 593h3v1h-3zM546 592v3h-1v-3zM547 582h3v1h-3zM549 581v3h-1v-3zM550 573h3v1h-3zM552 572v3h-1v-3zM554 563h3v1h-3zM556 562v3h-1v-3zM557 555h3v1h-3zM559 554v3h-1v-3zM560 543h3v1h-3zM562 542v3h-1v-3zM564 541h3v1h-3zM566 540v3h-1v-3zM567 526h3v1h-3zM569 525v3h-1v-3zM570 469h3v1h-3zM572 468v3h-1v-3zM574 522h3v1h-3zM576 521v3h-1v-3zM577 522h3v1h-3zM579 521v3h-1v-3zM580 520h3v1h-3zM582 519v3h-1v-3zM584 516h3v1h-3zM586 515v3h-1v-3zM587 510h3v1h-3zM589 509v3h-1v-3zM590 504h3v1h-3zM592 503v3h-1v-3zM594 499h3v1h-3zM596 498v3h-1v-3zM597 439h3v1h-3zM599 438v3h-1v-3zM601 441h3v1h-3zM603 440v3h-1v-3zM604 505h3v1h-3zM606 504v3h-1v-3zM607 505h3v1h-3zM609 504v3h-1v-3zM611 503h3v1h-3zM613 502v3h-1v-3zM614 498h3v1h-3zM616 497v3h-1v-3zM617 493h3v1h-3zM619 492v3h-1v-3zM621 485h3v1h-3zM623 484v3h-1v-3zM624 475h3v1h-3zM626 474v3h-1v-3zM627 465h3v1h-3zM629 464v3h-1v-3zM631 378h3v1h-3zM633 377v3h-1v-3zM634 379h3v1h-3zM636 378v3h-1v-3zM637 381h3v1h-3zM639 380v3h-1v-3zM641 383h3v1h-3zM643 382v3h-1v-3zM644 387h3v1h-3zM646 386v3h-1v-3zM647 393h3v1h-3zM649 392v3h-1v-3zM651 403h3v1h-3zM653 402v3h-1v-3zM654 411h3v1h-3zM656 410v3h-1v-3zM657 419h3v1h-3zM659 418v3h-1v-3zM661 427h3v1h-3zM663 426v3h-1v-3zM664 434h3v1h-3zM666 433v3h-1v-3zM667 440h3v1h-3zM669 439v3h-1v-3zM671 512h3v1h-3zM673 511v3h-1v-3zM674 511h3v1h-3zM676 510v3h-1v-3zM677 509h3v1h-3zM679 508v3h-1v-3zM681 508h3v1h-3zM683 507v3h-1v-3zM684 505h3v1h-3zM686 504v3h-1v-3zM687 500h3v1h-3zM689 499v3h-1v-3zM691 492h3v1h-3zM693 491v3h-1v-3zM694 485h3v1h-3zM696 484v3h-1v-3zM698 479h3v1h-3zM700 478v3h-1v-3zM701 473h3v1h-3zM703 472v3h-1v-3zM704 468h3v1h-3zM706 467v3h-1v-3zM708 463h3v1h-3zM710 462v3h-1v-3zM711 406h3v1h-3zM713 405v3h-1v-3zM714 407h3v1h-3zM716 406v3h-1v-3zM718 410h3v1h-3zM720 409v3h-1v-3zM721 414h3v1h-3zM723 413v3h-1v-3zM724 424h3v1h-3zM726 423v3h-1v-3zM728 433h3v1h-3zM730 432v3h-1v-3zM731 444h3v1h-3zM733 443v3h-1v-3zM734 459h3v1h-3zM736 458v3h-1v-3zM738 472h3v1h-3zM740 471v3h-1v-3zM741 566h3v1h-3zM743 565v3h-1v-3zM744 564h3v1h-3zM746 563v3h-1v-3zM748 561h3v1h-3zM750 560v3h-1v-3zM751 557h3v1h-3zM753 556v3h-1v-3zM754 475h3v1h-3zM756 474v3h-1v-3zM758 477h3v1h-3zM760 476v3h-1v-3zM761 478h3v1h-3zM763 477v3h-1v-3zM764 480h3v1h-3zM766 479v3h-1v-3zM768 483h3v1h-3zM770 482v3h-1v-3zM771 486h3v1h-3zM773 485v3h-1v-3zM774 489h3v1h-3zM776 488v3h-1v-3zM778 492h3v1h-3zM780 491v3h-1v-3zM781 494h3v1h-3zM783 493v3h-1v-3zM784 497h3v1h-3zM786 496v3h-1v-3zM788 499h3v1h-3zM790 498v3h-1v-3zM791 557h3v1h-3zM793 556v3h-1v-3zM795 556h3v1h-3zM797 555v3h-1v-3zM798 555h3v1h-3zM800 554v3h-1v-3zM801 552h3v1h-3zM803 551v3h-1v-3zM805 493h3v1h-3zM807 492v3h-1v-3zM808 495h3v1h-3zM810 494v3h-1v-3zM811 498h3v1h-3zM813 497v3h-1v-3zM815 500h3v1h-3zM817 499v3h-1v-3zM818 503h3v1h-3zM820 502v3h-1v-3zM821 505h3v1h-3zM823 504v3h-1v-3zM825 507h3v1h-3zM827 506v3h-1v-3zM828 509h3v1h-3zM830 508v3h-1v-3zM831 512h3v1h-3zM833 511v3h-1v-3zM835 514h3v1h-3zM837 513v3h-1v-3zM838 516h3v1h-3zM840 515v3h-1v-3zM841 518h3v1h-3zM843 517v3h-1v-3zM845 520h3v1h-3zM847 519v3h-1v-3zM848 522h3v1h-3zM850 521v3h-1v-3zM851 524h3v1h-3zM853 523v3h-1v-3zM855 528h3v1h-3zM857 527v3h-1v-3zM858 533h3v1h-3zM860 532v3h-1v-3zM861 537h3v1h-3zM863 536v3h-1v-3zM865 544h3v1h-3zM867 543v3h-1v-3zM868 550h3v1h-3zM870 549v3h-1v-3zM871 561h3v1h-3zM873 560v3h-1v-3zM875 571h3v1h-3zM877 570v3h-1v-3zM878 581h3v1h-3zM880 580v3h-1v-3zM881 589h3v1h-3zM883 588v3h-1v-3zM885 597h3v1h-3zM887 596v3h-1v-3zM888 688h3v1h-3zM890 687v3h-1v-3zM891 686h3v1h-3zM893 685v3h-1v-3zM895 674h3v1h-3zM897 673v3h-1v-3zM898 655h3v1h-3zM900 654v3h-1v-3zM902 637h3v1h-3zM904 636v3h-1v-3zM905 621h3v1h-3zM907 620v3h-1v-3zM908 605h3v1h-3zM910 604v3h-1v-3zM912 590h3v1h-3zM914 589v3h-1v-3zM915 576h3v1h-3zM917 575v3h-1v-3zM918 563h3v1h-3zM920 562v3h-1v-3zM922 558h3v1h-3zM924 557v3h-1v-3zM925 558h3v1h-3zM927 557v3h-1v-3zM928 549h3v1h-3zM930 548v3h-1v-3zM932 537h3v1h-3zM934 536v3h-1v-3zM935 527h3v1h-3zM937 526v3h-1v-3zM938 516h3v1h-3zM940 515v3h-1v-3zM942 507h3v1h-3zM944 506v3h-1v-3zM945 498h3v1h-3zM947 497v3h-1v-3zM948 490h3v1h-3zM950 489v3h-1v-3zM952 482h3v1h-3zM954 481v3h-1v-3zM955 474h3v1h-3zM957 473v3h-1v-3zM958 468h3v1h-3zM960 467v3h-1v-3zM962 456h3v1h-3zM964 455v3h-1v-3zM965 446h3v1h-3zM967 445v3h-1v-3zM968 436h3v1h-3zM970 435v3h-1v-3zM972 427h3v1h-3zM974 426v3h-1v-3zM975 413h3v1h-3zM977 412v3h-1v-3zM978 396h3v1h-3zM980 395v3h-1v-3zM982 377h3v1h-3zM984 376v3h-1v-3zM985 351h3v1h-3zM987 350v3h-1v-3zM988 180h3v1h-3zM990 179v3h-1v-3zM992 180h3v1h-3zM994 179v3h-1v-3zM995 183h3v1h-3zM997 182v3h-1v-3zM999 191h3v1h-3zM1001 190v3h-1v-3zM1002 203h3v1h-3zM1004 202v3h-1v-3z" fill="#2962ff" shape-rendering="crispEdges"/>
<g fill="none" stroke="#0000ff" stroke-width="2.2" stroke-linecap="butt"><path d="M1035.8 412.5L1079.5 266.3"/><path d="M1066.8 273.8L1079.7 265.8L1086.8 279.3" stroke-linejoin="miter"/></g>
<g fill="none" stroke="#ff0000" stroke-width="2" stroke-linecap="butt"><path d="M1035.8 431.3L1069.5 545.3"/><path d="M1056.7 538.6L1069.7 545.8L1076.8 532.4" stroke-linejoin="miter"/></g>
<g><path d="M1006.05 746.2A9.5 9.5 0 1 0 1012.85 753.1" fill="none" stroke="#9c27b0" stroke-width="1.6" stroke-linecap="round"/><path d="M1005.9 750.2L999.2 755.5L1002.7 755.7L1000.2 760.5L1007.5 755.3L1003.8 755.1z" fill="#9c27b0"/><circle cx="1010.4" cy="748.4" r="2.5" fill="#f23645"/></g>
</g></svg>
<div class="abs vl"></div>
<div class="abs pl" style="top:54.5px;clip-path:inset(7px 0 0 0)">1.83000</div>
<div class="abs pl" style="top:97.6px">1.82500</div>
<div class="abs pl" style="top:140.7px">1.82000</div>
<div class="abs pl" style="top:183.8px">1.81500</div>
<div class="abs pl" style="top:226.9px">1.81000</div>
<div class="abs pl" style="top:270.0px">1.80500</div>
<div class="abs pl" style="top:313.1px">1.80000</div>
<div class="abs pl" style="top:356.1px">1.79500</div>
<div class="abs pl" style="top:399.2px">1.79000</div>
<div class="abs pl" style="top:442.3px">1.78500</div>
<div class="abs pl" style="top:485.4px">1.78000</div>
<div class="abs pl" style="top:528.5px">1.77500</div>
<div class="abs pl" style="top:571.6px">1.77000</div>
<div class="abs pl" style="top:614.7px">1.76500</div>
<div class="abs pl" style="top:657.7px">1.76000</div>
<div class="abs pl" style="top:700.8px">1.75500</div>
<div class="abs pl" style="top:743.9px">1.75000</div>
<div class="abs" id="aud">AUD</div>
<div class="abs tag" style="top:172.0px;background:#808000">1.81621</div>
<div class="abs tag" style="top:196.0px;background:#2962ff">1.81352</div>
<div class="abs tag" style="top:321.0px;background:#008000">1.79794</div>
<div class="abs tag" style="top:338.0px;background:#ff0000">1.79680</div>
<div class="abs tag" style="top:355.0px;background:#0000ff">1.79345</div>
<div class="abs tag" style="top:681.0px;background:#800000">1.75717</div>
<div class="abs tag" style="top:372px;height:31px;width:60px;background:#ef5350;line-height:14.5px;padding-top:1px">1.79307<br><span style="color:rgba(255,255,255,.8)">01:25:54</span></div>
<div class="abs" style="left:10px;top:871px;width:1369px;height:26px;overflow:hidden">
<div class="abs tl" style="left:3.5px;top:6px">12</div>
<div class="abs tl" style="left:63.0px;top:6px">15</div>
<div class="abs tl" style="left:123.0px;top:6px">20</div>
<div class="abs tl" style="left:183.0px;top:6px">23</div>
<div class="abs tl b" style="left:286.5px;top:6px">Sep</div>
<div class="abs tl" style="left:343.5px;top:6px">4</div>
<div class="abs tl" style="left:403.5px;top:6px">9</div>
<div class="abs tl" style="left:463.5px;top:6px">12</div>
<div class="abs tl" style="left:523.5px;top:6px">17</div>
<div class="abs tl" style="left:583.5px;top:6px">20</div>
<div class="abs tl" style="left:643.5px;top:6px">25</div>
<div class="abs tl b" style="left:725.5px;top:6px">Oct</div>
<div class="abs tl" style="left:785.5px;top:6px">4</div>
<div class="abs tl" style="left:845.5px;top:6px">9</div>
<div class="abs tl" style="left:905.5px;top:6px">14</div>
<div class="abs tl" style="left:965.5px;top:6px">17</div>
<div class="abs tl" style="left:1025.5px;top:6px">22</div>
<div class="abs tl" style="left:1085.5px;top:6px">25</div>
<div class="abs tl b" style="left:1186.0px;top:6px">Nov</div>
<div class="abs tl" style="left:1245.0px;top:6px">6</div>
<div class="abs tl" style="left:1305.5px;top:6px">11</div>
<div class="abs tl" style="left:1365.0px;top:6px">14</div>
</div>
<svg class="abs" style="left:12px;top:917px" width="30" height="23" viewBox="0 0 36 28"><path d="M14 22H7V11H0V4h14v18zM28 22h-8l7.5-18h8L28 22z" fill="#0f0f0f"/><circle cx="20" cy="8" r="4" fill="#0f0f0f"/></svg>
<div class="abs" id="t0" style="left:10.3px;top:8.0px;line-height:14px;font-size:12px;letter-spacing:0.025px">Hartanto_Investment created with TradingView.com, Oct 20, 2025 10:34 UTC+7</div>
<div class="abs" id="t1" style="left:18.2px;top:35.0px;line-height:14px;font-size:12px;letter-spacing:0.011px">Euro / Australian Dollar · 4h · FXCM</div>
<div class="abs" id="t2" style="left:217.5px;top:35.0px;line-height:14px;font-size:12px;transform:scaleX(0.749);transform-origin:0 0">O</div>
<div class="abs" id="t3" style="left:225.5px;top:35.0px;line-height:14px;font-size:12px;color:#ef5350;letter-spacing:-0.342px">1.79324</div>
<div class="abs" id="t4" style="left:274.0px;top:35.0px;line-height:14px;font-size:12px;transform:scaleX(0.750);transform-origin:0 0">H</div>
<div class="abs" id="t5" style="left:282.5px;top:35.0px;line-height:14px;font-size:12px;color:#ef5350;letter-spacing:-0.342px">1.79328</div>
<div class="abs" id="t6" style="left:331.5px;top:35.0px;line-height:14px;font-size:12px;transform:scaleX(0.748);transform-origin:0 0">L</div>
<div class="abs" id="t7" style="left:338.0px;top:35.0px;line-height:14px;font-size:12px;color:#ef5350;letter-spacing:-0.342px">1.79078</div>
<div class="abs" id="t8" style="left:386.5px;top:35.0px;line-height:14px;font-size:12px;transform:scaleX(0.807);transform-origin:0 0">C</div>
<div class="abs" id="t9" style="left:395.0px;top:35.0px;line-height:14px;font-size:12px;color:#ef5350;letter-spacing:-0.413px">1.79307</div>
<div class="abs" id="t10" style="left:443.0px;top:35.0px;line-height:14px;font-size:12px;color:#ef5350;letter-spacing:-0.309px">−0.00017 (−0.01%)</div>
<div class="abs" id="t11" style="left:548.5px;top:35.0px;line-height:14px;font-size:12px;transform:scaleX(0.839);transform-origin:0 0">Vol</div>
<div class="abs" id="t12" style="left:564.0px;top:35.0px;line-height:14px;font-size:12px;color:#ef5350;letter-spacing:-0.411px">45.31 K</div>
<div class="abs" id="t13" style="left:1097.7px;top:405.2px;line-height:14px;font-size:15px;font-style:italic;line-height:18px;letter-spacing:0.116px">S/R Zone</div>
<div class="abs" id="t14" style="left:1101.0px;top:530.1px;line-height:14px;font-size:15px;font-style:italic;line-height:18px;letter-spacing:0.016px">Demand</div>
<div class="abs" id="t15" style="left:49.7px;top:915.2px;line-height:14px;font-size:20.6px;font-weight:bold;line-height:24px;color:#0f0f0f;-webkit-text-stroke:.45px #0f0f0f;letter-spacing:-0.140px">TradingView</div>
</body></html>
